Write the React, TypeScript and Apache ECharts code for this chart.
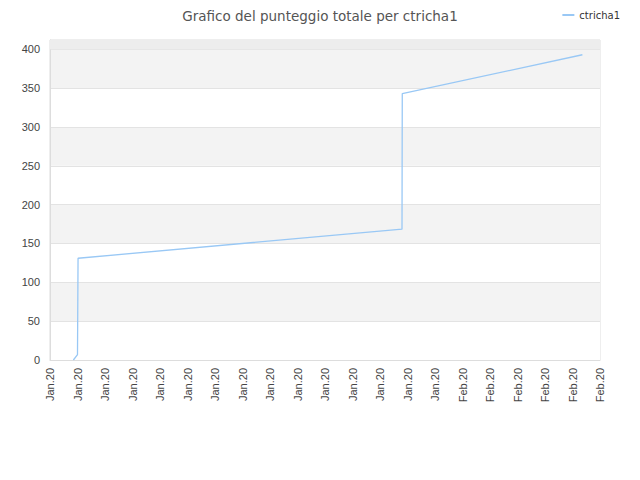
import React, { useEffect, useRef } from "react";
import * as echarts from "echarts";

const tickLabels = [
  "Jan.20", "Jan.20", "Jan.20", "Jan.20", "Jan.20", "Jan.20", "Jan.20",
  "Jan.20", "Jan.20", "Jan.20", "Jan.20", "Jan.20", "Jan.20", "Jan.20",
  "Jan.20", "Feb.20", "Feb.20", "Feb.20", "Feb.20", "Feb.20", "Feb.20",
];
// x positions in tick units (0 = first tick, 20 = last tick)
const xValues = [0.85, 1.0, 1.02, 12.8, 12.81, 19.36];
const scores = [0, 7, 131, 168.5, 343, 393];
const seriesName = "ctricha1";

export default function App() {
  const ref = useRef<HTMLDivElement>(null);
  useEffect(() => {
    if (!ref.current) return;
    const chart = echarts.init(ref.current, undefined, { renderer: "svg" });
    chart.setOption({
      animation: false,
      title: {
        text: "Grafico del punteggio totale per ctricha1",
        left: "center",
        top: 4,
        textStyle: { fontFamily: "DejaVu Sans", fontSize: 13.5, fontWeight: "normal", color: "#555" },
      },
      legend: {
        right: 15,
        top: 5,
        itemWidth: 12,
        itemHeight: 2,
        itemGap: 7,
        icon: "rect",
        textStyle: { fontFamily: "DejaVu Sans", fontSize: 10, color: "#333" },
        data: [seriesName],
      },
      grid: {
        left: 50,
        right: 40,
        top: 40,
        bottom: 120,
        show: true,
        borderColor: "#dddddd",
        borderWidth: 1,
        backgroundColor: "transparent",
      },
      xAxis: {
        type: "value",
        min: 0,
        max: tickLabels.length - 1,
        interval: 1,
        axisLine: { show: true, lineStyle: { color: "#dddddd" } },
        axisTick: { show: false },
        splitLine: { show: false },
        axisLabel: {
          rotate: 90,
          fontFamily: "Liberation Sans",
          fontSize: 11,
          color: "#444",
          margin: 8,
          showMinLabel: true,
          showMaxLabel: true,
          formatter: (v: number) => tickLabels[Math.round(v)] ?? "",
        },
      },
      yAxis: {
        type: "value",
        min: 0,
        max: 412,
        interval: 50,
        axisLine: { show: true, lineStyle: { color: "#dddddd" } },
        axisTick: { show: false },
        splitLine: { show: true, lineStyle: { color: "#e3e3e3" } },
        splitArea: { show: true, areaStyle: { color: ["#ffffff", "#f3f3f3"] } },
        axisLabel: {
          fontFamily: "Liberation Sans",
          fontSize: 11,
          color: "#444",
          margin: 10,
          showMaxLabel: false,
          formatter: (v: number) => (v % 50 === 0 ? String(v) : ""),
        },
      },
      series: [
        {
          name: seriesName,
          type: "line",
          data: xValues.map((x, i) => [x, scores[i]]),
          showSymbol: false,
          symbol: "none",
          lineStyle: { color: "#99c8f5", width: 1.3 },
          itemStyle: { color: "#99c8f5" },
          markArea: {
            silent: true,
            itemStyle: { color: "#ededed" },
            data: [[{ yAxis: 400 }, { yAxis: 412 }]],
          },
        },
      ],
    });
    return () => chart.dispose();
  }, []);
  return <div ref={ref} style={{ width: 640, height: 480, margin: -8 }} />;
}
